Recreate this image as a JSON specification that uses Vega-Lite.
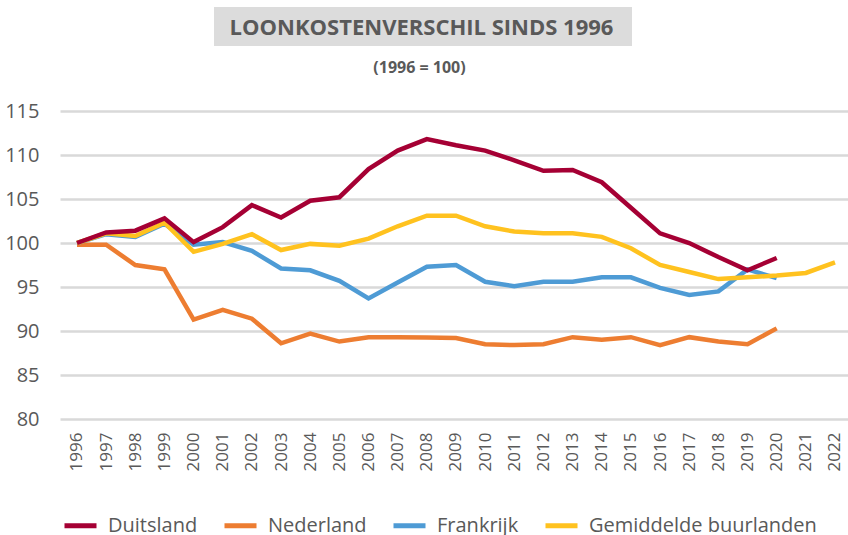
{
  "$schema": "https://vega.github.io/schema/vega-lite/v6.json",
  "autosize": {"type": "none"},
  "width": 788,
  "height": 308,
  "padding": {"left": 60, "top": 111, "right": 0, "bottom": 116},
  "background": "white",
  "config": {
    "view": {"stroke": null},
    "font": "Open Sans",
    "axisX": {
      "labelAngle": 270,
      "labelFontSize": 17,
      "labelColor": "#595959",
      "labelFont": "Open Sans",
      "labelPadding": 13,
      "domain": false,
      "ticks": false,
      "grid": false,
      "labelOverlap": false,
      "labelFlush": false,
      "labelBound": false,
      "title": null
    },
    "axisY": {
      "labelFontSize": 20,
      "labelColor": "#595959",
      "labelFont": "Open Sans",
      "labelPadding": 21,
      "domain": false,
      "ticks": false,
      "grid": true,
      "gridColor": "#d9d9d9",
      "gridWidth": 2.5,
      "labelOverlap": false,
      "title": null
    }
  },
  "datasets": {
    "series": [
      {"year": 1996, "land": "Nederland", "value": 99.8},
      {"year": 1997, "land": "Nederland", "value": 99.8},
      {"year": 1998, "land": "Nederland", "value": 97.5},
      {"year": 1999, "land": "Nederland", "value": 97.0},
      {"year": 2000, "land": "Nederland", "value": 91.3},
      {"year": 2001, "land": "Nederland", "value": 92.4},
      {"year": 2002, "land": "Nederland", "value": 91.4},
      {"year": 2003, "land": "Nederland", "value": 88.6},
      {"year": 2004, "land": "Nederland", "value": 89.7},
      {"year": 2005, "land": "Nederland", "value": 88.8},
      {"year": 2006, "land": "Nederland", "value": 89.3},
      {"year": 2007, "land": "Nederland", "value": 89.3},
      {"year": 2008, "land": "Nederland", "value": 89.25},
      {"year": 2009, "land": "Nederland", "value": 89.2},
      {"year": 2010, "land": "Nederland", "value": 88.5},
      {"year": 2011, "land": "Nederland", "value": 88.4},
      {"year": 2012, "land": "Nederland", "value": 88.5},
      {"year": 2013, "land": "Nederland", "value": 89.3},
      {"year": 2014, "land": "Nederland", "value": 89.0},
      {"year": 2015, "land": "Nederland", "value": 89.3},
      {"year": 2016, "land": "Nederland", "value": 88.4},
      {"year": 2017, "land": "Nederland", "value": 89.3},
      {"year": 2018, "land": "Nederland", "value": 88.8},
      {"year": 2019, "land": "Nederland", "value": 88.5},
      {"year": 2020, "land": "Nederland", "value": 90.3},
      {"year": 1996, "land": "Frankrijk", "value": 100.0},
      {"year": 1997, "land": "Frankrijk", "value": 101.0},
      {"year": 1998, "land": "Frankrijk", "value": 100.7},
      {"year": 1999, "land": "Frankrijk", "value": 102.2},
      {"year": 2000, "land": "Frankrijk", "value": 99.8},
      {"year": 2001, "land": "Frankrijk", "value": 100.1},
      {"year": 2002, "land": "Frankrijk", "value": 99.1},
      {"year": 2003, "land": "Frankrijk", "value": 97.1},
      {"year": 2004, "land": "Frankrijk", "value": 96.9},
      {"year": 2005, "land": "Frankrijk", "value": 95.7},
      {"year": 2006, "land": "Frankrijk", "value": 93.7},
      {"year": 2007, "land": "Frankrijk", "value": 95.5},
      {"year": 2008, "land": "Frankrijk", "value": 97.3},
      {"year": 2009, "land": "Frankrijk", "value": 97.5},
      {"year": 2010, "land": "Frankrijk", "value": 95.6},
      {"year": 2011, "land": "Frankrijk", "value": 95.1},
      {"year": 2012, "land": "Frankrijk", "value": 95.6},
      {"year": 2013, "land": "Frankrijk", "value": 95.6},
      {"year": 2014, "land": "Frankrijk", "value": 96.1},
      {"year": 2015, "land": "Frankrijk", "value": 96.1},
      {"year": 2016, "land": "Frankrijk", "value": 94.9},
      {"year": 2017, "land": "Frankrijk", "value": 94.1},
      {"year": 2018, "land": "Frankrijk", "value": 94.5},
      {"year": 2019, "land": "Frankrijk", "value": 97.0},
      {"year": 2020, "land": "Frankrijk", "value": 96.0},
      {"year": 1996, "land": "Gemiddelde buurlanden", "value": 100.0},
      {"year": 1997, "land": "Gemiddelde buurlanden", "value": 101.1},
      {"year": 1998, "land": "Gemiddelde buurlanden", "value": 100.8},
      {"year": 1999, "land": "Gemiddelde buurlanden", "value": 102.3},
      {"year": 2000, "land": "Gemiddelde buurlanden", "value": 99.0},
      {"year": 2001, "land": "Gemiddelde buurlanden", "value": 99.9},
      {"year": 2002, "land": "Gemiddelde buurlanden", "value": 101.0},
      {"year": 2003, "land": "Gemiddelde buurlanden", "value": 99.2},
      {"year": 2004, "land": "Gemiddelde buurlanden", "value": 99.9},
      {"year": 2005, "land": "Gemiddelde buurlanden", "value": 99.7},
      {"year": 2006, "land": "Gemiddelde buurlanden", "value": 100.5},
      {"year": 2007, "land": "Gemiddelde buurlanden", "value": 101.9},
      {"year": 2008, "land": "Gemiddelde buurlanden", "value": 103.1},
      {"year": 2009, "land": "Gemiddelde buurlanden", "value": 103.1},
      {"year": 2010, "land": "Gemiddelde buurlanden", "value": 101.9},
      {"year": 2011, "land": "Gemiddelde buurlanden", "value": 101.3},
      {"year": 2012, "land": "Gemiddelde buurlanden", "value": 101.1},
      {"year": 2013, "land": "Gemiddelde buurlanden", "value": 101.1},
      {"year": 2014, "land": "Gemiddelde buurlanden", "value": 100.7},
      {"year": 2015, "land": "Gemiddelde buurlanden", "value": 99.4},
      {"year": 2016, "land": "Gemiddelde buurlanden", "value": 97.5},
      {"year": 2017, "land": "Gemiddelde buurlanden", "value": 96.7},
      {"year": 2018, "land": "Gemiddelde buurlanden", "value": 95.9},
      {"year": 2019, "land": "Gemiddelde buurlanden", "value": 96.1},
      {"year": 2020, "land": "Gemiddelde buurlanden", "value": 96.3},
      {"year": 2021, "land": "Gemiddelde buurlanden", "value": 96.6},
      {"year": 2022, "land": "Gemiddelde buurlanden", "value": 97.8},
      {"year": 1996, "land": "Duitsland", "value": 100.0},
      {"year": 1997, "land": "Duitsland", "value": 101.2},
      {"year": 1998, "land": "Duitsland", "value": 101.4},
      {"year": 1999, "land": "Duitsland", "value": 102.8},
      {"year": 2000, "land": "Duitsland", "value": 100.1},
      {"year": 2001, "land": "Duitsland", "value": 101.8},
      {"year": 2002, "land": "Duitsland", "value": 104.3},
      {"year": 2003, "land": "Duitsland", "value": 102.9},
      {"year": 2004, "land": "Duitsland", "value": 104.8},
      {"year": 2005, "land": "Duitsland", "value": 105.2},
      {"year": 2006, "land": "Duitsland", "value": 108.4},
      {"year": 2007, "land": "Duitsland", "value": 110.5},
      {"year": 2008, "land": "Duitsland", "value": 111.8},
      {"year": 2009, "land": "Duitsland", "value": 111.1},
      {"year": 2010, "land": "Duitsland", "value": 110.5},
      {"year": 2011, "land": "Duitsland", "value": 109.4},
      {"year": 2012, "land": "Duitsland", "value": 108.2},
      {"year": 2013, "land": "Duitsland", "value": 108.3},
      {"year": 2014, "land": "Duitsland", "value": 106.9},
      {"year": 2015, "land": "Duitsland", "value": 104.0},
      {"year": 2016, "land": "Duitsland", "value": 101.1},
      {"year": 2017, "land": "Duitsland", "value": 100.0},
      {"year": 2018, "land": "Duitsland", "value": 98.4},
      {"year": 2019, "land": "Duitsland", "value": 96.9},
      {"year": 2020, "land": "Duitsland", "value": 98.3}
    ],
    "labels": [
      {"title": "LOONKOSTENVERSCHIL SINDS 1996", "subtitle": "(1996 = 100)"}
    ]
  },
  "layer": [
    {
      "data": {"name": "series"},
      "mark": {"type": "line", "strokeWidth": 4.5, "strokeJoin": "miter", "strokeCap": "butt"},
      "encoding": {
        "x": {
          "field": "year", "type": "quantitative",
          "scale": {"domain": [1995.417, 2022.446], "nice": false, "zero": false},
          "axis": {
            "values": [1996,1997,1998,1999,2000,2001,2002,2003,2004,2005,2006,2007,2008,2009,2010,2011,2012,2013,2014,2015,2016,2017,2018,2019,2020,2021,2022],
            "tickCount": 30,
            "format": "d"
          }
        },
        "y": {
          "field": "value", "type": "quantitative",
          "scale": {"domain": [80, 115], "nice": false, "zero": false},
          "axis": {
            "values": [80, 85, 90, 95, 100, 105, 110, 115]
          }
        },
        "color": {
          "field": "land", "type": "nominal",
          "scale": {
            "domain": ["Duitsland", "Nederland", "Frankrijk", "Gemiddelde buurlanden"],
            "range": ["#a50034", "#ed7d31", "#4e9bd5", "#ffc21f"]
          },
          "legend": {
            "title": null,
            "orient": "none",
            "legendX": 2,
            "legendY": 396,
            "direction": "horizontal",
            "columns": 4,
            "columnPadding": 16,
            "symbolType": "stroke",
            "symbolSize": 1024,
            "symbolStrokeWidth": 5,
            "labelOffset": 9,
            "labelFontSize": 20,
            "labelLimit": 400,
            "labelColor": "#595959",
            "labelFont": "Open Sans"
          }
        }
      }
    },
    {
      "data": {"name": "labels"},
      "mark": {"type": "rect", "color": "#dcdcdc", "clip": false},
      "encoding": {
        "x": {"datum": 2000.699, "type": "quantitative", "axis": {"values": [1996,1997,1998,1999,2000,2001,2002,2003,2004,2005,2006,2007,2008,2009,2010,2011,2012,2013,2014,2015,2016,2017,2018,2019,2020,2021,2022], "tickCount": 30, "format": "d"}},
        "x2": {"datum": 2015.037},
        "y": {"datum": 126.82, "type": "quantitative"},
        "y2": {"datum": 122.39}
      }
    },
    {
      "data": {"name": "labels"},
      "mark": {"type": "text", "font": "Open Sans", "fontSize": 22, "fontWeight": "bold", "color": "#595959", "align": "center", "baseline": "middle", "clip": false},
      "encoding": {
        "x": {"datum": 2007.817, "type": "quantitative"},
        "y": {"datum": 124.43, "type": "quantitative"},
        "text": {"field": "title"}
      }
    },
    {
      "data": {"name": "labels"},
      "mark": {"type": "text", "font": "Open Sans", "fontSize": 16, "fontWeight": "bold", "color": "#595959", "align": "center", "baseline": "middle", "clip": false},
      "encoding": {
        "x": {"datum": 2007.748, "type": "quantitative"},
        "y": {"datum": 119.83, "type": "quantitative"},
        "text": {"field": "subtitle"}
      }
    },
    {
      "mark": {"type": "rule", "color": "#404040", "strokeWidth": 3.5, "strokeDash": [11, 6]},
      "encoding": {
        "y": {"datum": 100, "type": "quantitative"}
      }
    }
  ]
}
